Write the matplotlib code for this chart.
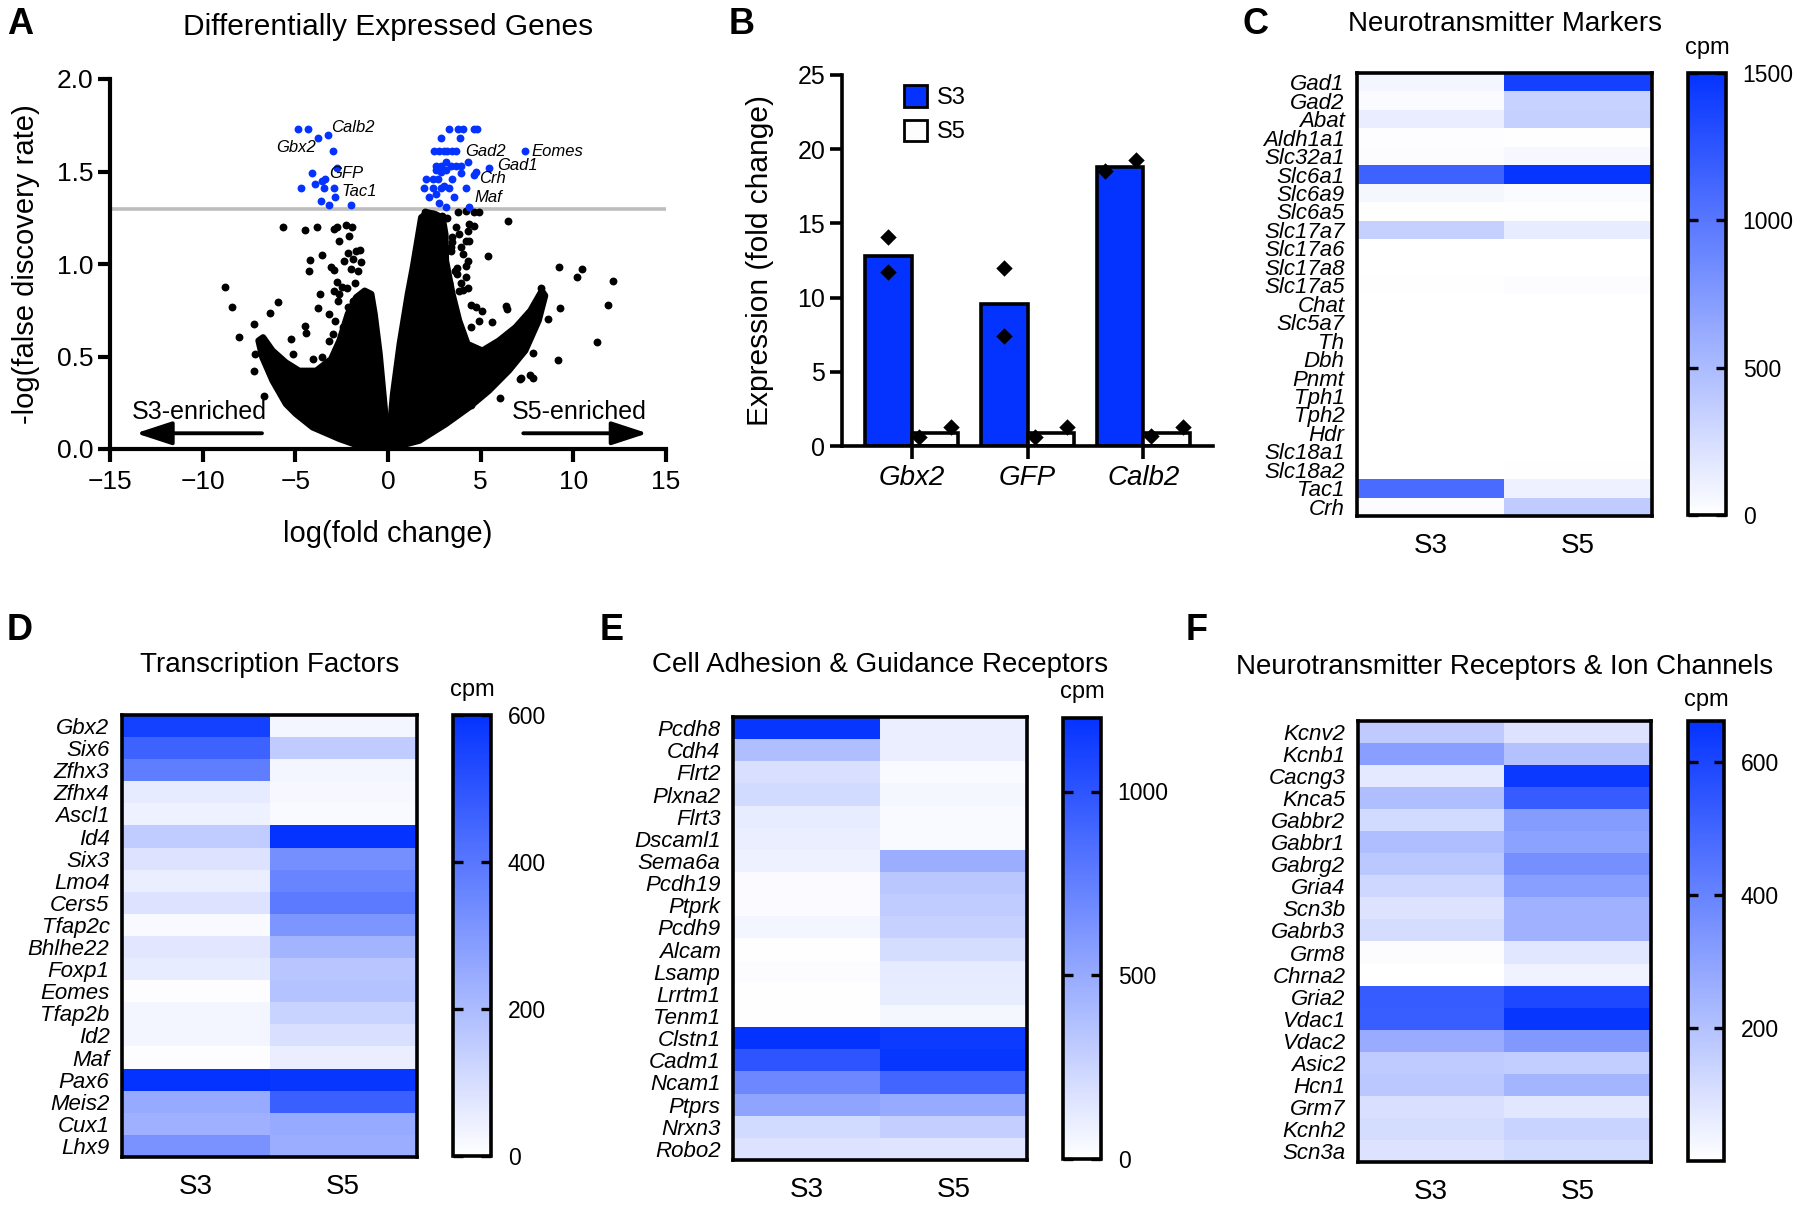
import numpy as np
import matplotlib
matplotlib.use("Agg")
import matplotlib.pyplot as plt
from matplotlib.colors import LinearSegmentedColormap

plt.rcParams['font.family'] = ['Liberation Sans', 'DejaVu Sans']

# ---------------- DATA ----------------
# Panel A: volcano plot (log fold change, -log FDR)
left_mass_x = [0.00, -1.35, -2.62, -4.07, -4.97, -5.51, -6.23, -6.78, -6.99, -6.74, -6.23, -5.51,
               -4.79, -3.88, -3.07, -2.62, -2.17, -1.72, -1.26, -0.90, -0.72, -0.45, -0.18]
left_mass_y = [0.000, 0.009, 0.054, 0.117, 0.189, 0.243, 0.369, 0.495, 0.586, 0.604, 0.532, 0.468,
               0.423, 0.423, 0.486, 0.586, 0.730, 0.820, 0.856, 0.838, 0.730, 0.514, 0.225]
right_mass_x = [0.00, 0.27, 0.63, 1.07, 1.34, 1.61, 1.79, 2.14, 2.55, 2.95, 3.10, 3.13, 3.48, 3.84,
                4.29, 5.09, 5.98, 6.88, 7.68, 8.30, 8.48, 8.13, 7.41, 6.52, 5.45, 4.38, 3.13, 1.70]
right_mass_y = [0.000, 0.297, 0.568, 0.838, 0.982, 1.144, 1.252, 1.279, 1.270, 1.250, 1.160, 1.018,
                0.838, 0.694, 0.568, 0.532, 0.586, 0.658, 0.748, 0.856, 0.829, 0.694, 0.532, 0.423,
                0.315, 0.225, 0.135, 0.045]
black_x = [-5.69, -4.48, -3.85, -2.89, -2.76, -2.26, -1.95, -2.66, -2.08, -3.58, -4.21, -4.25, -3.07,
           -2.89, -2.17, -1.72, -1.50, -1.90, -2.35, -2.48, -2.75, -2.22, -1.99, -3.65, -2.62, -8.80,
           -8.40, -5.96, -6.38, -3.76, -3.16, -2.84, -4.46, -4.43, -7.23, -8.04, -5.26, -5.15, -4.03,
           -3.56, -4.79, -7.23, -7.17, -6.69, -1.60, -1.45, -1.80,
           -2.71, -2.89, -2.17, -1.90, -2.44, -2.98, -3.16,
           3.80, 4.23, 4.64, 4.91, 4.38, 4.64, 4.29, 4.20, 3.66, 3.84, 3.39, 4.02, 4.29, 4.34, 4.23,
           5.05, 5.39, 6.48, 6.34, 6.43, 5.59, 8.66, 7.80, 7.14, 6.04, 4.46, 9.23, 10.45, 10.21, 12.13,
           11.88, 9.30, 11.29, 9.16, 7.68, 7.80, 7.20, 8.28, 7.87, 8.20, 2.00, 2.45, 3.60, 3.95, 4.50,
           2.30, 2.90, 3.20, 3.45, 3.70, 4.05, 3.30, 3.55,
           3.39, 3.70, 3.84, 4.23, 3.93, 3.48, 4.38, 4.73, 4.91, 4.46]
black_y = [1.198, 1.184, 1.202, 1.189, 1.198, 1.211, 1.198, 1.126, 1.153, 1.050, 1.022, 0.964, 0.986,
           0.968, 1.058, 1.068, 1.076, 1.027, 1.018, 0.874, 0.901, 0.868, 0.973, 0.838, 0.838, 0.874,
           0.766, 0.793, 0.733, 0.762, 0.730, 0.690, 0.663, 0.625, 0.676, 0.604, 0.595, 0.514, 0.486,
           0.495, 0.414, 0.423, 0.514, 0.288, 0.960, 1.010, 0.900,
           0.800, 0.856, 0.766, 0.800, 0.658, 0.620, 0.586,
           1.279, 1.285, 1.279, 1.279, 1.216, 1.207, 1.180, 1.126, 1.198, 1.162, 1.090, 1.054, 1.018,
           0.870, 0.928, 0.748, 1.045, 1.234, 0.775, 0.757, 0.688, 0.703, 0.521, 0.378, 0.276, 0.240,
           0.986, 0.973, 0.932, 0.908, 0.780, 0.762, 0.580, 0.481, 0.400, 0.385, 0.385, 0.870, 0.770,
           0.820, 1.280, 1.270, 0.960, 0.900, 0.780, 1.230, 1.260, 1.250, 1.120, 0.980, 0.860, 0.900,
           0.760,
           1.070, 0.946, 0.856, 0.990, 1.090, 1.144, 1.126, 0.766, 0.694, 0.658]
blue_x = [-4.88, -4.30, -3.79, -3.23, -2.98, -2.76, -4.12, -3.92, -3.56, -3.38, -4.72, -3.43, -2.89,
          -3.61, -3.16, -2.85, -1.99,
          3.30, 3.79, 4.02, 4.64, 4.82, 2.86, 3.89, 2.50, 2.77, 3.04, 3.21, 3.48, 3.66, 4.29, 2.59,
          2.86, 3.13, 3.39, 3.66, 3.93, 2.86, 3.13, 2.59, 4.73, 5.45, 2.05, 2.41, 2.68, 3.48, 3.93,
          4.64, 1.96, 2.41, 2.86, 3.04, 3.30, 4.20, 2.23, 2.59, 3.57, 2.77, 3.13, 4.38, 7.41]
blue_y = [1.73, 1.73, 1.68, 1.70, 1.61, 1.52, 1.49, 1.43, 1.45, 1.46, 1.41, 1.41, 1.41, 1.34, 1.32,
          1.36, 1.32,
          1.73, 1.73, 1.73, 1.73, 1.73, 1.68, 1.68, 1.61, 1.61, 1.61, 1.61, 1.61, 1.61, 1.55, 1.53,
          1.53, 1.55, 1.53, 1.53, 1.53, 1.50, 1.51, 1.51, 1.50, 1.52, 1.46, 1.46, 1.46, 1.46, 1.49,
          1.48, 1.41, 1.41, 1.41, 1.42, 1.41, 1.41, 1.36, 1.38, 1.36, 1.33, 1.31, 1.31, 1.61]
volcano_labels = ['Calb2', 'Gbx2', 'GFP', 'Tac1', 'Gad2', 'Eomes', 'Gad1', 'Crh', 'Maf']
volcano_label_x = [-3.07, -3.89, -3.16, -2.49, 4.16, 7.73, 5.89, 4.91, 4.64]
volcano_label_y = [1.74, 1.63, 1.49, 1.39, 1.61, 1.61, 1.53, 1.46, 1.36]
fdr_threshold = 1.30

# Panel B: fold change bars
b_genes = ['Gbx2', 'GFP', 'Calb2']
b_s3_mean = [12.8, 9.6, 18.8]
b_s3_reps = [[14.1, 11.7], [12.0, 7.4], [18.5, 19.3]]
b_s5_mean = [0.9, 0.9, 0.9]
b_s5_reps = [[0.6, 1.3], [0.6, 1.3], [0.7, 1.3]]

# Panel C: neurotransmitter markers (cpm)
c_genes = ['Gad1', 'Gad2', 'Abat', 'Aldh1a1', 'Slc32a1', 'Slc6a1', 'Slc6a9', 'Slc6a5', 'Slc17a7',
           'Slc17a6', 'Slc17a8', 'Slc17a5', 'Chat', 'Slc5a7', 'Th', 'Dbh', 'Pnmt', 'Tph1', 'Tph2',
           'Hdr', 'Slc18a1', 'Slc18a2', 'Tac1', 'Crh']
c_s3 = [70, 25, 130, 15, 20, 1150, 60, 8, 340, 5, 5, 10, 5, 3, 3, 3, 3, 3, 3, 3, 5, 5, 1080, 20]
c_s5 = [1400, 330, 340, 10, 55, 1480, 30, 8, 140, 5, 5, 20, 5, 3, 3, 3, 3, 3, 3, 3, 5, 10, 100, 380]

# Panel D: transcription factors (cpm)
d_genes = ['Gbx2', 'Six6', 'Zfhx3', 'Zfhx4', 'Ascl1', 'Id4', 'Six3', 'Lmo4', 'Cers5', 'Tfap2c',
           'Bhlhe22', 'Foxp1', 'Eomes', 'Tfap2b', 'Id2', 'Maf', 'Pax6', 'Meis2', 'Cux1', 'Lhx9']
d_s3 = [560, 460, 380, 60, 40, 150, 80, 50, 80, 15, 70, 55, 5, 30, 30, 5, 600, 250, 230, 320]
d_s5 = [30, 150, 30, 20, 15, 600, 330, 360, 390, 310, 220, 170, 180, 130, 90, 50, 590, 470, 250, 240]

# Panel E: cell adhesion & guidance receptors (cpm)
e_genes = ['Pcdh8', 'Cdh4', 'Flrt2', 'Plxna2', 'Flrt3', 'Dscaml1', 'Sema6a', 'Pcdh19', 'Ptprk',
           'Pcdh9', 'Alcam', 'Lsamp', 'Lrrtm1', 'Tenm1', 'Clstn1', 'Cadm1', 'Ncam1', 'Ptprs',
           'Nrxn3', 'Robo2']
e_s3 = [1180, 380, 180, 220, 110, 100, 80, 20, 20, 60, 5, 15, 5, 5, 1200, 1000, 700, 530, 220, 160]
e_s5 = [100, 100, 30, 50, 30, 30, 480, 330, 300, 270, 200, 120, 110, 50, 1150, 1180, 900, 500, 280, 150]

# Panel F: neurotransmitter receptors & ion channels (cpm)
f_genes = ['Kcnv2', 'Kcnb1', 'Cacng3', 'Knca5', 'Gabbr2', 'Gabbr1', 'Gabrg2', 'Gria4', 'Scn3b',
           'Gabrb3', 'Grm8', 'Chrna2', 'Gria2', 'Vdac1', 'Vdac2', 'Asic2', 'Hcn1', 'Grm7', 'Kcnh2',
           'Scn3a']
f_s3 = [170, 310, 70, 210, 120, 210, 180, 130, 90, 110, 10, 0, 530, 520, 270, 170, 180, 100, 110, 90]
f_s5 = [90, 200, 640, 530, 320, 300, 360, 310, 250, 250, 80, 40, 590, 650, 330, 160, 240, 80, 140, 120]

samples = ['S3', 'S5']

# ---------------- STYLE / LAYOUT ----------------
W, H = 1800, 1206
BLUE = '#0433FF'
fig = plt.figure(figsize=(W / 100, H / 100), dpi=100)
fig.patch.set_facecolor('white')


def add_ax(x0, y0, x1, y1):
    return fig.add_axes([x0 / W, 1 - y1 / H, (x1 - x0) / W, (y1 - y0) / H])


def ftext(x, y, s, **kw):
    return fig.text(x / W, 1 - y / H, s, **kw)


# Panel letters
for letter, (lx, ly) in zip('ABCDEF', [(20, 25), (742, 24), (1256, 24), (20, 630), (612, 630), (1197, 630)]):
    ftext(lx, ly, letter, fontsize=26, fontweight='bold', ha='center', va='center')

# ---------------- Panel A ----------------
axA = add_ax(110, 79, 666, 449)
axA.fill(left_mass_x, left_mass_y, facecolor='black', edgecolor='black', lw=4.5,
         joinstyle='round', zorder=2)
axA.fill(right_mass_x, right_mass_y, facecolor='black', edgecolor='black', lw=4.5,
         joinstyle='round', zorder=2)
axA.scatter(black_x, black_y, s=32, color='black', lw=0, zorder=3)
axA.scatter(blue_x, blue_y, s=32, color=BLUE, lw=0, zorder=4)
axA.axhline(fdr_threshold, color='#BDBDBD', lw=2.6, zorder=1)
for name, lx, ly in zip(volcano_labels, volcano_label_x, volcano_label_y):
    ha = 'right' if name == 'Gbx2' else 'left'
    axA.text(lx, ly, name, fontsize=12, fontstyle='italic', ha=ha, va='center', zorder=5)
axA.set_xlim(-15, 15)
axA.set_ylim(0, 2)
axA.set_xticks([-15, -10, -5, 0, 5, 10, 15])
axA.set_yticks([0.0, 0.5, 1.0, 1.5, 2.0])
axA.set_yticklabels(['0.0', '0.5', '1.0', '1.5', '2.0'])
for s in ['top', 'right']:
    axA.spines[s].set_visible(False)
for s in ['left', 'bottom']:
    axA.spines[s].set_linewidth(3.0)
axA.tick_params(width=3.0, length=9, labelsize=19, pad=3)
axA.tick_params(axis='x', pad=6)
arrow_style = dict(arrowstyle='-|>,head_length=1.1,head_width=0.36', lw=2.8, color='black',
                   shrinkA=0, shrinkB=0, mutation_scale=20)
axA.annotate('', xy=(-13.6, 0.085), xytext=(-6.8, 0.085), arrowprops=arrow_style)
axA.annotate('', xy=(14.0, 0.085), xytext=(7.3, 0.085), arrowprops=arrow_style)
axA.text(-10.17, 0.20, 'S3-enriched', fontsize=18, ha='center', va='center')
axA.text(10.34, 0.20, 'S5-enriched', fontsize=18, ha='center', va='center')
ftext(388, 27, 'Differentially Expressed Genes', fontsize=21.5, ha='center', va='center')
ftext(26, 264, '-log(false discovery rate)', fontsize=21, rotation=90, ha='center', va='center')
ftext(388, 534, 'log(fold change)', fontsize=21, ha='center', va='center')

# ---------------- Panel B ----------------
axB = add_ax(842, 75, 1213, 446)
xg = np.arange(len(b_genes))
bw = 0.4
axB.bar(xg - bw / 2, b_s3_mean, width=bw, color=BLUE, edgecolor='black', lw=2.6, label='S3', zorder=2)
axB.bar(xg + bw / 2, b_s5_mean, width=bw, color='#FDFDFD', edgecolor='black', lw=2.6, label='S5', zorder=2)
s3_off = [[0, 0], [0, 0], [-0.33, 0.35]]
for i in range(len(b_genes)):
    axB.scatter([xg[i] - bw / 2 + o * bw for o in s3_off[i]], b_s3_reps[i], marker='D', s=70,
                color='black', lw=0, zorder=4, clip_on=False)
    axB.scatter([xg[i] + bw / 2 + o * bw for o in (-0.33, 0.36)], b_s5_reps[i], marker='D', s=70,
                color='black', lw=0, zorder=4, clip_on=False)
axB.set_xlim(-0.6, 2.6)
axB.set_ylim(0, 25)
axB.set_yticks([0, 5, 10, 15, 20, 25])
axB.set_xticks(xg)
axB.set_xticklabels(b_genes, fontstyle='italic', fontsize=20)
for s in ['top', 'right']:
    axB.spines[s].set_visible(False)
for s in ['left', 'bottom']:
    axB.spines[s].set_linewidth(2.6)
axB.tick_params(width=2.6, length=9)
axB.tick_params(axis='y', labelsize=18, pad=3)
axB.tick_params(axis='x', pad=5)
leg = axB.legend(loc='upper left', bbox_to_anchor=(0.168, 0.972), frameon=False, fontsize=17,
                 handlelength=0.95, handleheight=1.0, handletextpad=0.45, labelspacing=0.45,
                 borderpad=0, borderaxespad=0)
for p in leg.get_patches():
    p.set_linewidth(2.0)
ftext(760, 261, 'Expression (fold change)', fontsize=21.5, rotation=90, ha='center', va='center')

# ---------------- Heatmaps ----------------
cmap = LinearSegmentedColormap.from_list('white_blue', ['#FFFFFF', BLUE])


def heatmap(box, cbox, genes, s3, s5, vmax, cticks, title, title_y, cpm_y):
    ax = add_ax(*box)
    data = np.column_stack([s3, s5])
    im = ax.imshow(data, cmap=cmap, vmin=0, vmax=vmax, aspect='auto', interpolation='nearest')
    ax.set_yticks(range(len(genes)))
    ax.set_yticklabels(genes, fontstyle='italic', fontsize=16)
    ax.set_xticks([0, 1])
    ax.set_xticklabels(samples, fontsize=20)
    ax.tick_params(length=0)
    ax.tick_params(axis='y', pad=9)
    ax.tick_params(axis='x', pad=12)
    for s in ax.spines.values():
        s.set_linewidth(2.6)
    cax = add_ax(*cbox)
    cb = fig.colorbar(im, cax=cax, ticks=cticks)
    cb.outline.set_linewidth(2.6)
    cax.yaxis.set_ticks_position('both')
    cax.tick_params(axis='y', direction='in', length=7, width=2.4, labelsize=16.5,
                    left=True, right=True, labelleft=False, labelright=True, pad=12)
    cx = (box[0] + box[2]) / 2
    ftext(cx, title_y, title, fontsize=20, ha='center', va='center')
    ftext((cbox[0] + cbox[2]) / 2, cpm_y, 'cpm', fontsize=17, ha='center', va='center')
    return ax


heatmap((1357, 73, 1652, 516), (1688, 73, 1726, 515), c_genes, c_s3, c_s5, 1500,
        [0, 500, 1000, 1500], 'Neurotransmitter Markers', 24, 48)
heatmap((122, 715, 417, 1157), (453, 715, 491, 1156), d_genes, d_s3, d_s5, 600,
        [0, 200, 400, 600], 'Transcription Factors', 665, 690)
heatmap((733, 717, 1027, 1160), (1063, 718, 1101, 1159), e_genes, e_s3, e_s5, 1200,
        [0, 500, 1000], 'Cell Adhesion & Guidance Receptors', 665, 692)
heatmap((1358, 721, 1651, 1162), (1688, 721, 1724, 1161), f_genes, f_s3, f_s5, 662,
        [200, 400, 600], 'Neurotransmitter Receptors & Ion Channels', 667, 700)

fig.savefig('out.png', dpi=100)
